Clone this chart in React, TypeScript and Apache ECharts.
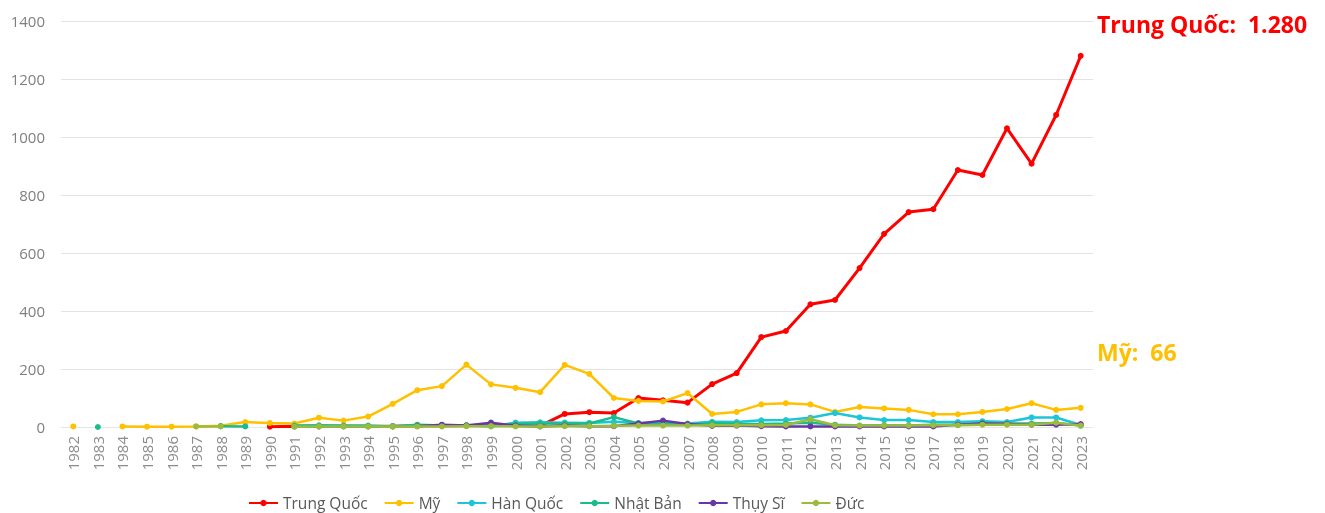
import React, { useEffect, useRef } from "react";
import * as echarts from "echarts";

const years: string[] = [];
for (let y = 1982; y <= 2023; y++) years.push(String(y));

const N = null;
// 1982 .. 2023
const trungQuoc = [N, N, N, N, N, N, N, N, 1, 3, 2, 3, 2, 3, 4, 4, 5, 6, 5, 4, 45, 51, 48, 100, 92, 84, 148, 186, 310, 331, 423, 438, 548, 666, 741, 751, 886, 869, 1030, 908, 1076, 1280];
const my = [2, N, 2, 1, 1, 2, 4, 17, 14, 12, 32, 22, 36, 80, 127, 141, 215, 147, 135, 120, 214, 183, 100, 90, 88, 117, 45, 52, 78, 82, 78, 52, 69, 64, 59, 44, 44, 52, 62, 82, 59, 66];
const hanQuoc = [N, N, N, N, N, N, N, N, N, 1, 2, 2, 2, 3, 4, 5, 6, 2, 15, 16, 15, 14, 18, 14, 14, 12, 18, 17, 23, 24, 32, 48, 33, 24, 24, 17, 17, 20, 17, 33, 33, 7];
const nhatBan = [N, 0, N, N, N, N, 3, 2, N, 5, 6, 5, 5, 2, 8, 5, 6, 5, 10, 12, 12, 12, 34, 12, 10, 8, 14, 10, 10, 12, 15, 8, 5, 6, 5, 8, 8, 14, 12, 12, 14, 5];
const thuySi = [N, N, N, N, N, N, N, N, N, N, N, N, N, N, 3, 8, 5, 15, 5, 2, 5, 3, 3, 12, 22, 10, 4, 5, 3, 2, 2, 2, 2, 2, 2, 2, 8, 12, 10, 8, 8, 10];
const duc = [N, N, N, N, N, 2, 2, N, N, 1, 2, 2, 2, 1, 2, 2, 3, 3, 2, 2, 3, 3, 4, 5, 5, 5, 6, 6, 6, 7, 27, 6, 5, 5, 5, 6, 6, 8, 8, 8, 15, 5];

const seriesNames = ["Trung Quốc", "Mỹ", "Hàn Quốc", "Nhật Bản", "Thụy Sĩ", "Đức"];
const seriesData = [trungQuoc, my, hanQuoc, nhatBan, thuySi, duc];
const seriesColors = ["#FF0000", "#FFC000", "#1CC5D8", "#1ABC8C", "#6A35A5", "#9BBB3C"];

export default function App() {
  const ref = useRef<HTMLDivElement>(null);
  useEffect(() => {
    if (!ref.current) return;
    const chart = echarts.init(ref.current, undefined, { renderer: "svg" });
    const font = "'Open Sans', 'Noto Sans', sans-serif";
    chart.setOption({
      animation: false,
      textStyle: { fontFamily: font },
      grid: { left: 61, right: 232, top: 21, bottom: 86 },
      legend: {
        data: seriesNames,
        top: 494,
        left: 243,
        padding: [0, 5],
        itemWidth: 29,
        itemHeight: 8,
        itemGap: 16,
        textStyle: { color: "#595959", fontSize: 15.5, lineHeight: 18, fontFamily: font },
      },
      xAxis: {
        type: "category",
        data: years,
        boundaryGap: true,
        axisLine: { show: true, lineStyle: { color: "#e6e6e6" } },
        axisTick: { show: false },
        axisLabel: { rotate: 90, color: "#8c8c8c", fontSize: 15, interval: 0, margin: 9 },
      },
      yAxis: {
        type: "value",
        min: 0,
        max: 1400,
        interval: 200,
        axisLine: { show: false },
        axisTick: { show: false },
        axisLabel: { color: "#7f7f7f", fontSize: 15, margin: 16, formatter: (v: number) => String(v) },
        splitLine: { lineStyle: { color: "#e3e3e3" } },
      },
      series: seriesNames.map((name, i) => ({
        name,
        type: "line",
        data: seriesData[i],
        color: seriesColors[i],
        symbol: "circle",
        symbolSize: 6,
        showAllSymbol: true,
        z: 2 + i,
        lineStyle: { width: i === 0 ? 3 : 2.5, color: seriesColors[i] },
        itemStyle: { color: seriesColors[i] },
      })),
      graphic: [
        {
          type: "text",
          left: 1097,
          top: 12,
          style: {
            text: "Trung Quốc:  1.280",
            fill: "#FF0000",
            font: "bold 23px 'Open Sans', 'Noto Sans', sans-serif",
          },
        },
        {
          type: "text",
          left: 1097,
          top: 340,
          style: {
            text: "Mỹ:  66",
            fill: "#FFC000",
            font: "bold 23px 'Open Sans', 'Noto Sans', sans-serif",
          },
        },
      ],
    });
    return () => chart.dispose();
  }, []);
  return <div ref={ref} style={{ position: "fixed", left: 0, top: 0, width: 1325, height: 513 }} />;
}
